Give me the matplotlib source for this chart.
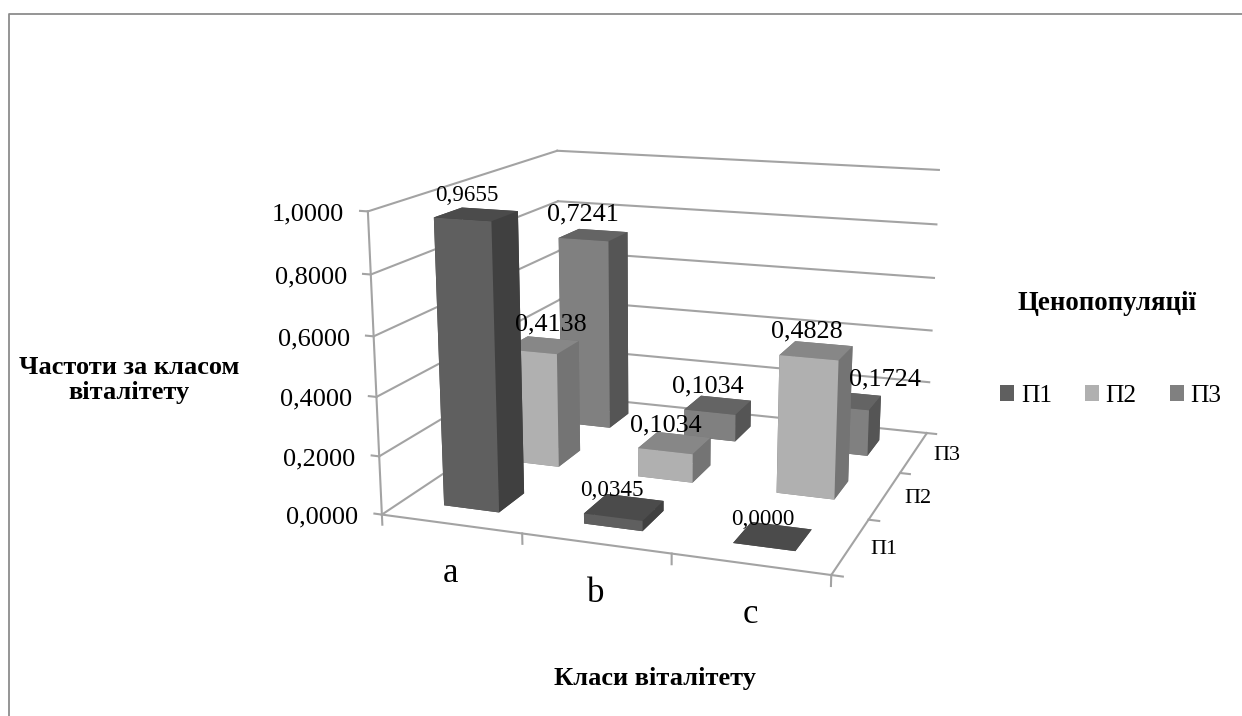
import numpy as np
import matplotlib
matplotlib.use("Agg")
import matplotlib.pyplot as plt
from matplotlib.lines import Line2D
from matplotlib.patches import Patch

plt.rcParams['font.family'] = ['Liberation Serif', 'DejaVu Serif']

classes = ['a', 'b', 'c']
series = ['П1', 'П2', 'П3']
p1_values = [0.9655, 0.0345, 0.0000]
p2_values = [0.4138, 0.1034, 0.4828]
p3_values = [0.7241, 0.1034, 0.1724]
z_ticks = [0.0, 0.2, 0.4, 0.6, 0.8, 1.0]
# faces: front, side, top
p1_colors = ['#5f5f5f', '#404040', '#4b4b4b']
p2_colors = ['#b0b0b0', '#747474', '#878787']
p3_colors = ['#808080', '#555555', '#646464']

W, H = 1242, 716
GRID = '#a3a3a3'

# Camera fitted to the corners of the chart box (world coords -> pixels)
world = [(0, 0, 0), (0, 0, 1), (3, 0, 0), (3, 3, 0), (3, 3, 1), (0, 3, 0), (0, 3, 1)]
pix = [(382, 515), (368, 211), (831, 575), (927, 433), (939, 170), (561, 395), (557, 151)]
A = []
for (x, y, z), (u, v) in zip(world, pix):
    v = H - v
    A.append([x, y, z, 1, 0, 0, 0, 0, -u*x, -u*y, -u*z, -u])
    A.append([0, 0, 0, 0, x, y, z, 1, -v*x, -v*y, -v*z, -v])
P = np.linalg.svd(np.array(A, float))[2][-1].reshape(3, 4)
if P[2] @ np.array([1.5, 1.5, 0.5, 1]) < 0:
    P = -P
P = P / (P[2] @ np.array([1.5, 1.5, 0.5, 1]))
M = np.vstack([P[0], P[1], [-0.4, 1.0, -0.5, 0.0], P[2]])


def project(x, y, z):
    q = P @ np.array([x, y, z, 1.0])
    return q[0] / q[2], q[1] / q[2]


fig = plt.figure(figsize=(W / 100, H / 100), dpi=100, facecolor='white')
ax = fig.add_axes([0, 0, 1, 1], projection='3d', computed_zorder=False, proj_type='ortho')
ax.set_axis_off()
ax.get_proj = lambda: M
ax.apply_aspect = lambda position=None: None
ax.viewLim.intervalx = (0, W)
ax.viewLim.intervaly = (0, H)

# outer chart frame
fig.add_artist(Line2D([8.5 / W, 8.5 / W, 1], [0, 1 - 13.5 / H, 1 - 13.5 / H], color='#8c8c8c', lw=1.3))


def seg(a, b):
    ax.plot([a[0], b[0]], [a[1], b[1]], [a[2], b[2]], color=GRID, lw=1.5, zorder=1)


# walls, floor, ticks
for z in z_ticks:
    seg((0, 0, z), (0, 3, z))
    seg((0, 3, z), (3, 3, z))
    seg((0, 0, z), (-0.055, 0, z))
seg((0, 0, 0), (0, 0, 1))
seg((0, 0, 0), (3, 0, 0))
seg((3, 0, 0), (3, 3, 0))
for i in range(4):
    seg((i, 0, 0), (i, 0, -0.035))
for j in range(4):
    seg((3, j, 0), (3.07, j, 0))

width, depth = 0.4, 0.4
rows = [(2, p3_values, p3_colors), (1, p2_values, p2_colors), (0, p1_values, p1_colors)]
order = 2
for j, values, (front, side, top) in rows:
    for i, val in enumerate(values):
        face = [top, top, front, side, side, side]
        col = ax.bar3d(i + 0.5 - width / 2, j + 0.5 - depth / 2, 0, width, depth, val,
                       color=face, shade=False, edgecolor='none')
        col.set_zorder(order)
        order += 1

# data labels; some were moved by hand in the original (pixel nudges)
label_nudges = {(2, 2): (47, 2), (2, 0): (0, 2), (1, 0): (19, 2), (1, 1): (1, -2),
                (0, 1): (-2, -2), (0, 2): (0, -2)}
label_sizes = {0: 16.6, 1: 18.8, 2: 18.8}
for j, values, _ in rows:
    for i, val in enumerate(values):
        dx, dy = label_nudges.get((j, i), (0, 0))
        ax.annotate(f'{val:.4f}'.replace('.', ','), xy=project(i + 0.5, j + 0.5, val),
                    xytext=((dx - 10) * 0.72, (dy + 19) * 0.72), textcoords='offset points',
                    ha='center', va='center', fontsize=label_sizes[j], color='black', zorder=50,
                    annotation_clip=False)

# value axis labels
for z in z_ticks:
    ax.annotate(f'{z:.4f}'.replace('.', ','), xy=project(0, 0, z), xytext=(-24 * 0.72, -3 * 0.72),
                textcoords='offset points', ha='right', va='center', fontsize=19, zorder=50,
                annotation_clip=False)
# class labels
for i, c in enumerate(classes):
    ax.annotate(c, xy=project(i + 0.5, 0, 0), xytext=(0, -50 * 0.72),
                textcoords='offset points', ha='center', va='center', fontsize=25, zorder=50,
                annotation_clip=False)
# series labels
for j, s in enumerate(series):
    ax.annotate(s, xy=project(3, j + 0.5, 0), xytext=(33 * 0.72, -3 * 0.72),
                textcoords='offset points', ha='center', va='center', fontsize=16, zorder=50,
                annotation_clip=False)


def label(px, py, s, **kw):
    fig.text(px / W, 1 - py / H, s, ha='center', va='center', fontweight='bold', **kw)


label(129, 380, 'Частоти за класом\nвіталітету', fontsize=19, linespacing=1.15)
label(655, 678, 'Класи віталітету', fontsize=19)
label(1107, 304, 'Ценопопуляції', fontsize=19.4)

handles = [Patch(facecolor=c[0], label=s) for c, s in zip([p1_colors, p2_colors, p3_colors], series)]
fig.legend(handles=handles, ncol=3, frameon=False, loc='center left',
           bbox_to_anchor=(1000 / W, 1 - 396 / H), fontsize=18.3, handlelength=0.55, handleheight=0.55,
           handletextpad=0.27, columnspacing=1.3, borderaxespad=0, borderpad=0)

fig.savefig('out.png', dpi=100, facecolor='white')
